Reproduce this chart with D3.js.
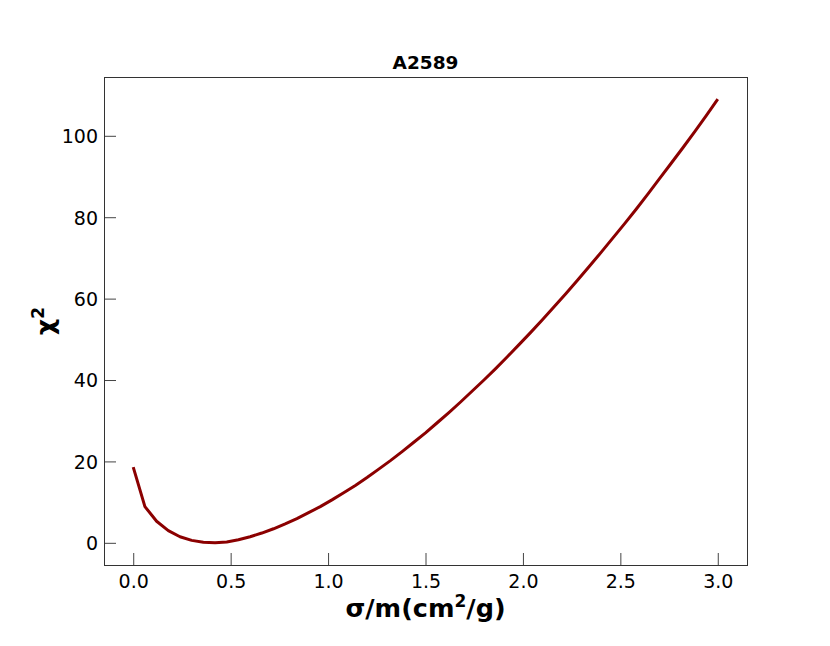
<!DOCTYPE html>
<html>
<head>
<meta charset="utf-8">
<script src="https://cdn.jsdelivr.net/npm/d3@7"></script>
<style>
  body { margin: 0; background: #fff; }
  svg text { font-family: "DejaVu Sans", sans-serif; }
</style>
</head>
<body>
<svg id="chart" width="830" height="646"></svg>
<script>
// data
const title = "A2589";
const sigma = [0.00, 0.06, 0.12, 0.18, 0.24, 0.30, 0.36, 0.42, 0.48, 0.54,
  0.60, 0.66, 0.72, 0.78, 0.84, 0.90, 0.96, 1.02, 1.08, 1.14,
  1.20, 1.26, 1.32, 1.38, 1.44, 1.50, 1.56, 1.62, 1.68, 1.74,
  1.80, 1.86, 1.92, 1.98, 2.04, 2.10, 2.16, 2.22, 2.28, 2.34,
  2.40, 2.46, 2.52, 2.58, 2.64, 2.70, 2.76, 2.82, 2.88, 2.94, 3.00];
const chi2 = [18.6, 8.9, 5.3, 3.0, 1.5, 0.6, 0.15, 0.0, 0.2, 0.75,
  1.5, 2.4, 3.45, 4.65, 5.95, 7.4, 8.9, 10.55, 12.3, 14.1,
  16.05, 18.1, 20.2, 22.4, 24.7, 27.0, 29.5, 32.0, 34.6, 37.3,
  40.0, 42.8, 45.7, 48.7, 51.7, 54.8, 58.0, 61.2, 64.5, 67.9,
  71.3, 74.8, 78.3, 81.9, 85.6, 89.4, 93.2, 97.0, 100.9, 104.9, 109.0];
const xTicks = [0, 0.5, 1.0, 1.5, 2.0, 2.5, 3.0];
const yTicks = [0, 20, 40, 60, 80, 100];

const svg = d3.select("#chart");
const margin = { left: 104, right: 83, top: 77, bottom: 81 };
const width = 830, height = 646;

const x = d3.scaleLinear()
  .domain([-0.15, 3.15])
  .range([margin.left, width - margin.right]);
const y = d3.scaleLinear()
  .domain([-5.45, 114.45])
  .range([height - margin.bottom, margin.top]);

const points = sigma.map((s, i) => [s, chi2[i]]);

// curve
svg.append("path")
  .datum(points)
  .attr("fill", "none")
  .attr("stroke", "#8b0000")
  .attr("stroke-width", 3)
  .attr("stroke-linejoin", "round")
  .attr("d", d3.line().x(d => x(d[0])).y(d => y(d[1])));

// axes, ticks pointing inward
const xAxis = svg.append("g")
  .attr("transform", `translate(0,${height - margin.bottom})`)
  .call(d3.axisBottom(x).tickValues(xTicks).tickFormat(d3.format(".1f"))
    .tickSizeInner(-12).tickSizeOuter(0).tickPadding(5));
const yAxis = svg.append("g")
  .attr("transform", `translate(${margin.left},0)`)
  .call(d3.axisLeft(y).tickValues(yTicks).tickFormat(d3.format("d"))
    .tickSizeInner(-12).tickSizeOuter(0).tickPadding(6));

[xAxis, yAxis].forEach(g => {
  g.select(".domain").remove();
  g.selectAll(".tick line").attr("stroke", "#444").attr("stroke-width", 1);
  g.selectAll(".tick text").attr("fill", "#000").style("font-size", "19px");
});
xAxis.selectAll(".tick text").attr("dy", "0.95em");
yAxis.selectAll(".tick text").attr("dy", "0.36em");

// frame
svg.append("rect")
  .attr("x", margin.left + 0.5)
  .attr("y", margin.top + 0.5)
  .attr("width", width - margin.left - margin.right)
  .attr("height", height - margin.top - margin.bottom)
  .attr("fill", "none")
  .attr("stroke", "#333")
  .attr("stroke-width", 1);

// title
svg.append("text")
  .attr("x", (margin.left + width - margin.right) / 2)
  .attr("y", 69)
  .attr("text-anchor", "middle")
  .style("font-size", "18.5px")
  .style("font-weight", "bold")
  .text(title);

// x label
const xl = svg.append("text")
  .attr("x", (margin.left + width - margin.right) / 2)
  .attr("y", 617)
  .attr("text-anchor", "middle")
  .style("font-size", "25.5px")
  .style("font-weight", "bold");
xl.append("tspan").text("σ/m(cm");
xl.append("tspan").attr("dy", -10).style("font-size", "17px").text("2");
xl.append("tspan").attr("dy", 10).text("/g)");

// y label
const yl = svg.append("text")
  .attr("transform", `translate(54,${(margin.top + height - margin.bottom) / 2}) rotate(-90)`)
  .attr("text-anchor", "middle")
  .style("font-size", "25.5px")
  .style("font-weight", "bold");
yl.append("tspan").text("χ");
yl.append("tspan").attr("dy", -10).style("font-size", "17px").text("2");
</script>
</body>
</html>
